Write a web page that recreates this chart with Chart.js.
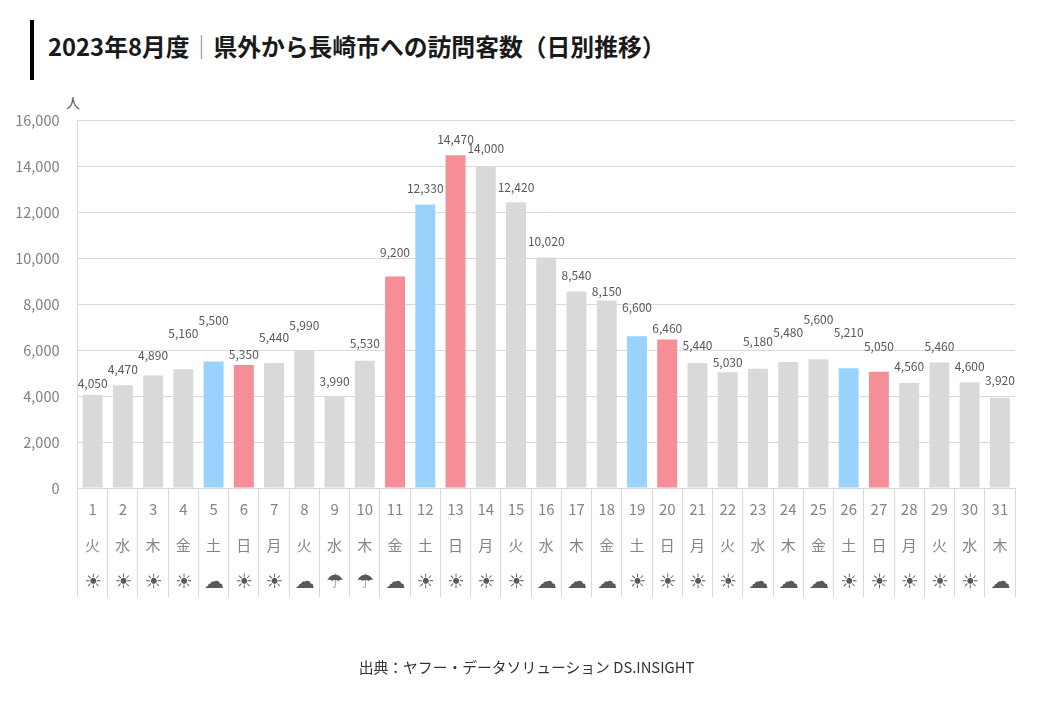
<!DOCTYPE html>
<html lang="ja">
<head>
<meta charset="utf-8">
<title>県外から長崎市への訪問客数</title>
<script src="https://cdn.jsdelivr.net/npm/chart.js@4/dist/chart.umd.min.js"></script>
<style>
  html, body { margin: 0; background: #fff; }
  body { width: 1040px; height: 720px; position: relative; overflow: hidden; font-family: "Noto Sans CJK JP", sans-serif; }
  canvas { position: absolute; left: 0; top: 0; }
  .bar { position: absolute; left: 30px; top: 20px; width: 4px; height: 60px; background: #000; }
  h1 { position: absolute; left: 48px; top: 28px; margin: 0; font-size: 23.8px; line-height: 36px; font-weight: 700; color: #1a1a1a; white-space: nowrap; }
  h1 span { color: #8c8c8c; font-weight: 400; }
  .unit { position: absolute; left: 66px; top: 93px; font-size: 14px; line-height: 18px; color: #595959; }
  .source { position: absolute; left: 0; width: 1053px; top: 657px; text-align: center; font-size: 14.8px; line-height: 20px; color: #333; white-space: nowrap; }
</style>
</head>
<body>
<div class="bar"></div>
<h1>2023年8月度<span>｜</span>県外から長崎市への訪問客数（日別推移）</h1>
<div class="unit">人</div>
<canvas id="chart" width="1040" height="720"></canvas>
<div class="source">出典：ヤフー・データソリューション DS.INSIGHT</div>
<script>
const days = ['1','2','3','4','5','6','7','8','9','10','11','12','13','14','15','16','17','18','19','20','21','22','23','24','25','26','27','28','29','30','31'];
const weekdays = ['火','水','木','金','土','日','月','火','水','木','金','土','日','月','火','水','木','金','土','日','月','火','水','木','金','土','日','月','火','水','木'];
const weather = ['☀','☀','☀','☀','☁','☀','☀','☁','☂','☂','☁','☀','☀','☀','☀','☁','☁','☁','☀','☀','☀','☀','☁','☁','☁','☀','☀','☀','☀','☀','☁'];
const visitors = [4050,4470,4890,5160,5500,5350,5440,5990,3990,5530,9200,12330,14470,14000,12420,10020,8540,8150,6600,6460,5440,5030,5180,5480,5600,5210,5050,4560,5460,4600,3920];
const holidays = ['11'];
// how far each value label floats above its bar, px
const labelLift = [11,16,20,36,41,11,25,25,15,17,24,16,16,18,15,16,16,9,29,11,17,10,27,30,40,36,25,17,16,16,17];

const GRAY = '#d9d9d9', BLUE = '#99d3fd', PINK = '#f68e97';
const barColors = days.map((d, i) => {
  if (weekdays[i] === '日' || holidays.includes(d)) return PINK;
  return weekdays[i] === '土' ? BLUE : GRAY;
});

const JP = '"Noto Sans CJK JP", sans-serif';

const barLabels = {
  id: 'barLabels',
  afterDatasetsDraw(chart) {
    const { ctx } = chart;
    ctx.save();
    ctx.font = '12px ' + JP;
    ctx.fillStyle = '#595959';
    ctx.textAlign = 'center';
    ctx.textBaseline = 'middle';
    chart.getDatasetMeta(0).data.forEach((bar, i) => {
      ctx.fillText(visitors[i].toLocaleString('en-US'), bar.x, bar.y - labelLift[i]);
    });
    ctx.restore();
  }
};

// weather row sits under the weekday row, darker than the tick text
const weatherRow = {
  id: 'weatherRow',
  afterDraw(chart) {
    const { ctx } = chart;
    const xs = chart.scales.x;
    ctx.save();
    ctx.font = 'bold 20px "DejaVu Sans"';
    ctx.fillStyle = '#595959';
    ctx.textAlign = 'center';
    ctx.textBaseline = 'middle';
    weather.forEach((w, i) => ctx.fillText(w, xs.getPixelForTick(i) + 0.5, 583));
    ctx.restore();
  }
};

new Chart(document.getElementById('chart'), {
  type: 'bar',
  data: {
    labels: days.map((d, i) => [d, weekdays[i]]),
    datasets: [{
      data: visitors,
      backgroundColor: barColors,
      categoryPercentage: 1,
      barPercentage: 0.66
    }]
  },
  options: {
    responsive: false,
    animation: false,
    layout: { padding: { top: 120, right: 25, bottom: 123, left: 0 } },
    plugins: { legend: { display: false }, tooltip: { enabled: false } },
    scales: {
      x: {
        afterFit: s => { s.height = 109; },
        border: { color: GRAY },
        grid: { color: GRAY, drawOnChartArea: false, tickLength: 109 },
        ticks: {
          autoSkip: false,
          maxRotation: 0,
          padding: -106,
          color: '#858585',
          font: { family: JP, size: 15, lineHeight: '36px' }
        }
      },
      y: {
        min: 0,
        max: 16000,
        afterFit: s => { s.width = 77.5; },
        border: { color: GRAY },
        grid: { color: GRAY, drawTicks: false },
        ticks: {
          stepSize: 2000,
          padding: 18,
          color: '#7f7f7f',
          font: { family: JP, size: 14.5 },
          callback: v => v.toLocaleString('en-US')
        }
      }
    }
  },
  plugins: [barLabels, weatherRow]
});
</script>
</body>
</html>
